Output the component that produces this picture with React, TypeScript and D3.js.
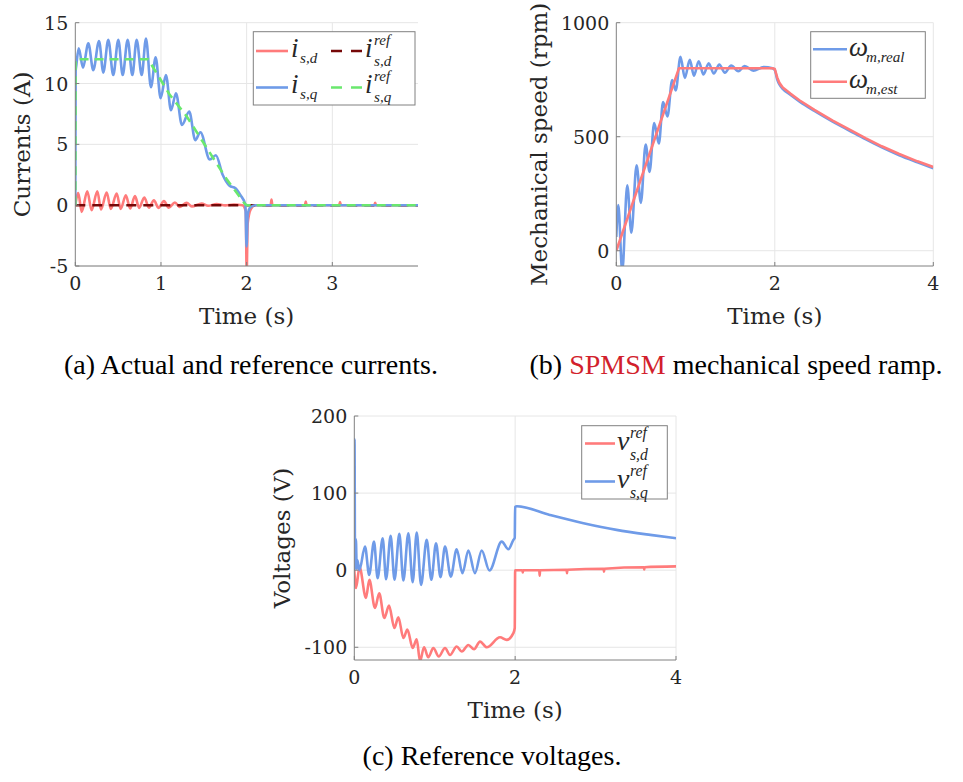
import React from 'react';
import * as d3 from 'd3';

type Pt = [number, number];

// (a) currents (A) vs time (s), peaks and troughs
const iSd: Pt[] = [
  [0, 0], [0.035, 1.0], [0.074, -0.55], [0.14, 1.15], [0.19, -0.41], [0.257, 1.15], [0.3, -0.36],
  [0.366, 1.04], [0.415, -0.3], [0.483, 0.96], [0.53, -0.3], [0.59, 0.82], [0.64, -0.27], [0.697, 0.74],
  [0.745, -0.22], [0.805, 0.63], [0.86, -0.2], [0.918, 0.41], [0.97, -0.22], [1.035, 0.33], [1.09, -0.2],
  [1.163, 0.22], [1.22, -0.14], [1.3, 0.2], [1.36, -0.1], [1.475, 0.13], [1.55, -0.05], [1.65, 0.1],
  [1.75, -0.02], [1.85, 0.05], [1.95, 0], [1.99, -0.5], [2.0, -5.6], [2.012, -1.5], [2.05, -0.3], [2.1, 0],
  [2.28, 0], [2.29, 0.47], [2.3, 0], [2.68, 0], [2.69, 0.3], [2.7, 0], [3.08, 0], [3.09, 0.25], [3.1, 0],
  [3.49, 0], [3.5, 0.2], [3.51, 0], [4, 0],
];
const iSdRef: Pt[] = [[0, 0], [4, 0]];
const iSq: Pt[] = [
  [0, 0], [0.004, 11.0], [0.012, 11.5], [0.04, 12.9], [0.09, 11.3], [0.152, 13.3], [0.21, 11.1],
  [0.277, 13.5], [0.327, 10.9], [0.385, 13.6], [0.443, 10.7], [0.502, 13.6], [0.553, 10.7], [0.611, 13.6],
  [0.666, 10.7], [0.716, 13.6], [0.775, 10.7], [0.825, 13.7], [0.883, 9.7], [0.938, 12.15], [0.996, 8.8],
  [1.058, 10.7], [1.117, 7.8], [1.175, 9.2], [1.245, 6.6], [1.33, 7.7], [1.4, 5.35], [1.46, 6.0],
  [1.57, 3.75], [1.64, 4.1], [1.72, 2.5], [1.8, 1.6], [1.87, 1.4], [1.93, 0.8], [1.985, 0.05],
  [1.999, -3.4], [2.012, -0.8], [2.04, -0.2], [2.1, 0], [4, 0],
];
const iSqRef: Pt[] = [
  [0, 0], [0.003, 12], [0.85, 12], [1.1, 9.1], [1.3, 7.3], [1.77, 2.1], [1.98, 0.1], [2.0, 0], [4, 0],
];

// (b) mechanical speed (rpm)
const wReal: Pt[] = [
  [0, 60], [0.025, 200], [0.075, -90], [0.138, 287], [0.19, 79], [0.256, 375], [0.31, 210], [0.37, 466],
  [0.42, 346], [0.478, 560], [0.537, 470], [0.59, 652], [0.646, 589], [0.705, 749], [0.75, 703],
  [0.81, 851], [0.865, 758], [0.927, 837], [0.98, 768], [1.04, 831], [1.1, 773], [1.166, 822],
  [1.23, 777], [1.3, 816], [1.37, 781], [1.45, 812], [1.54, 787], [1.62, 810], [1.73, 790], [1.86, 805],
  [1.97, 800], [2.0, 792], [2.03, 752], [2.06, 728], [2.1, 710], [2.2, 683], [2.31, 655], [2.5, 613],
  [2.73, 566], [2.95, 525], [3.15, 488], [3.35, 453], [3.57, 419], [3.8, 388], [4, 362],
];
const wEst: Pt[] = [
  [0, 0], [0.79, 800], [1.97, 800], [2.0, 797], [2.03, 760], [2.06, 735], [2.1, 716], [2.2, 688],
  [2.31, 660], [2.5, 618], [2.73, 571], [2.95, 530], [3.15, 493], [3.35, 458], [3.57, 424], [3.8, 392],
  [4, 367],
];

// (c) reference voltages (V)
const vSd: Pt[] = [
  [0, 0], [0.021, -23], [0.065, 4], [0.145, -36], [0.187, -12.6], [0.257, -49], [0.31, -30],
  [0.373, -62], [0.432, -46], [0.498, -75], [0.548, -61], [0.61, -88], [0.66, -77], [0.726, -101],
  [0.776, -89.5], [0.817, -118], [0.867, -100], [0.92, -113], [0.983, -101], [1.05, -112], [1.128, -101],
  [1.19, -110], [1.273, -99], [1.336, -105.5], [1.418, -97], [1.489, -102.5], [1.563, -92.6], [1.647, -100],
  [1.812, -87], [1.895, -90.4], [1.978, -81.7], [1.995, -75], [2.0, 0], [2.09, 0], [2.095, -3], [2.1, 0],
  [2.3, 0], [2.305, -7], [2.31, 0], [2.64, 0.5], [2.645, -4], [2.65, 0.6], [3.1, 1.8], [3.105, -2],
  [3.11, 1.9], [3.6, 3.8], [3.605, 1], [3.61, 3.9], [4, 5],
];
const vSq: Pt[] = [
  [0, 0], [0.003, 170], [0.009, 2], [0.02, 40], [0.03, 2], [0.038, 13], [0.063, 0], [0.133, 30.6],
  [0.185, -6.1], [0.245, 37.1], [0.29, -10.4], [0.353, 41.5], [0.395, -11.7], [0.452, 44.5], [0.5, -12.5],
  [0.56, 47.1], [0.61, -13.4], [0.672, 48], [0.726, -15.6], [0.776, 48.8], [0.83, -19], [0.9, 39.3],
  [0.958, -12.5], [1.016, 35], [1.072, -9.1], [1.128, 30.6], [1.2, -8.3], [1.273, 27.2], [1.345, -3.9],
  [1.418, 25.5], [1.5, -3.9], [1.584, 25.5], [1.68, -0.5], [1.833, 37.1], [1.916, 27.2], [1.978, 39.3],
  [1.995, 42], [2.0, 82], [2.02, 83], [2.43, 71.7], [2.85, 61], [3.26, 52.3], [3.68, 45.8], [4, 41.5],
];

const RED = '#ff7b7b';
const BLUE = '#6f9be8';
const GREEN = '#6ae86e';
const DARKRED = '#760808';
const TXT = '#262626';
const AXIS = '#808080';
const GRID = '#e6e6e6';
const CM = "'DejaVu Serif', serif";
const TIMES = "'Liberation Serif', serif";

interface Series { data: Pt[]; color: string; dash?: string; smooth?: boolean }
interface Box { left: number; right: number; top: number; bottom: number }

function Panel({ id, box, xDomain, yDomain, xTicks, yTicks, series, yLabel, yLabelX, children }: {
  id: string; box: Box; xDomain: number[]; yDomain: number[]; xTicks: number[]; yTicks: number[];
  series: Series[]; yLabel: string; yLabelX: number; children?: React.ReactNode;
}) {
  const x = d3.scaleLinear().domain(xDomain).range([box.left, box.right]);
  const y = d3.scaleLinear().domain(yDomain).range([box.bottom, box.top]);
  const cx = (box.left + box.right) / 2;
  const cy = (box.top + box.bottom) / 2;
  return (
    <g>
      <defs>
        <clipPath id={id}>
          <rect x={box.left} y={box.top} width={box.right - box.left} height={box.bottom - box.top} />
        </clipPath>
      </defs>
      {xTicks.filter(t => t !== xDomain[0]).map(t => (
        <line key={'gx' + t} x1={x(t)} x2={x(t)} y1={box.top} y2={box.bottom} stroke={GRID} />
      ))}
      {yTicks.map(t => (
        <line key={'gy' + t} x1={box.left} x2={box.right} y1={y(t)} y2={y(t)} stroke={GRID} />
      ))}
      <g clipPath={`url(#${id})`}>
        {series.map((s, i) => {
          const gen = d3.line<Pt>().x(d => x(d[0])).y(d => y(d[1]))
            .curve(s.smooth ? d3.curveMonotoneX : d3.curveLinear);
          return <path key={i} d={gen(s.data) || ''} fill="none" stroke={s.color} strokeWidth={2.6}
            strokeDasharray={s.dash} strokeLinejoin="round" />;
        })}
      </g>
      <line x1={box.left} x2={box.left} y1={box.top} y2={box.bottom} stroke={AXIS} />
      <line x1={box.left} x2={box.right} y1={box.bottom} y2={box.bottom} stroke={AXIS} />
      {xTicks.map(t => (
        <g key={'tx' + t}>
          <line x1={x(t)} x2={x(t)} y1={box.bottom} y2={box.bottom - 4} stroke={AXIS} />
          <text x={x(t)} y={box.bottom + 24} textAnchor="middle" fontSize={19} fontFamily={CM} fill={TXT}>{t}</text>
        </g>
      ))}
      {yTicks.map(t => (
        <g key={'ty' + t}>
          <line x1={box.left} x2={box.left + 4} y1={y(t)} y2={y(t)} stroke={AXIS} />
          <text x={box.left - 7} y={y(t) + 7} textAnchor="end" fontSize={19} fontFamily={CM} fill={TXT}>
            {t < 0 ? '-' + Math.abs(t) : t}
          </text>
        </g>
      ))}
      <text x={cx} y={box.bottom + 58} textAnchor="middle" fontSize={23} fontFamily={CM} fill={TXT}>Time (s)</text>
      <text transform={`translate(${yLabelX},${cy}) rotate(-90)`} textAnchor="middle" fontSize={23}
        fontFamily={CM} fill={TXT}>{yLabel}</text>
      {children}
    </g>
  );
}

// one text element: base symbol, optional superscript, subscript stacked under it
function Sym({ x, y, base, sub, sup, size, bw }: {
  x: number; y: number; base: string; sub: string; sup?: string; size: number; bw: number;
}) {
  const small = size * 0.56;
  const supDy = -size * 0.44;
  const subDy = sup ? size * 0.34 : size * 0.24;
  return (
    <text x={x} y={y} fontSize={size} fontFamily={TIMES} fontStyle="italic" fill={TXT}>
      <tspan>{base}</tspan>
      {sup && <tspan x={x + bw} y={y + supDy} fontSize={small}>{sup}</tspan>}
      <tspan x={x + bw} y={y + subDy} fontSize={small}>{sub}</tspan>
    </text>
  );
}

function Sample({ x1, x2, y, color, dash }: { x1: number; x2: number; y: number; color: string; dash?: string }) {
  return <line x1={x1} x2={x2} y1={y} y2={y} stroke={color} strokeWidth={2.6} strokeDasharray={dash} />;
}

export default function App() {
  const boxA = { left: 75.3, right: 418, top: 22.7, bottom: 266 };
  const boxB = { left: 616.3, right: 933.3, top: 22.7, bottom: 266 };
  const boxC = { left: 354.3, right: 676, top: 416, bottom: 660 };
  return (
    <svg width={963} height={782} style={{ position: 'absolute', left: 0, top: 0, background: '#fff' }}>
      <Panel id="clipA" box={boxA} xDomain={[0, 4]} yDomain={[-5, 15]} xTicks={[0, 1, 2, 3]}
        yTicks={[-5, 0, 5, 10, 15]} yLabel="Currents (A)" yLabelX={30}
        series={[
          { data: iSd, color: RED, smooth: true },
          { data: iSdRef, color: DARKRED, dash: '10,7' },
          { data: iSq, color: BLUE, smooth: true },
          { data: iSqRef, color: GREEN, dash: '9,6' },
        ]}>
        <rect x={253.3} y={31.7} width={161.7} height={73.3} fill="#fff" stroke={AXIS} />
        <Sample x1={256} x2={288} y={51} color={RED} />
        <Sym x={291} y={57} base="i" sub="s,d" size={27} bw={9} />
        <Sample x1={331} x2={364} y={51} color={DARKRED} dash="11,9" />
        <Sym x={365} y={57} base="i" sup="ref" sub="s,d" size={27} bw={9} />
        <Sample x1={256} x2={288} y={87.5} color={BLUE} />
        <Sym x={291} y={93} base="i" sub="s,q" size={27} bw={9} />
        <Sample x1={331} x2={364} y={87.5} color={GREEN} dash="11,9" />
        <Sym x={365} y={93} base="i" sup="ref" sub="s,q" size={27} bw={9} />
      </Panel>

      <Panel id="clipB" box={boxB} xDomain={[0, 4]} yDomain={[-67, 1000]} xTicks={[0, 2, 4]}
        yTicks={[0, 500, 1000]} yLabel="Mechanical speed (rpm)" yLabelX={547}
        series={[
          { data: wReal, color: BLUE, smooth: true },
          { data: wEst, color: RED },
        ]}>
        <rect x={810.7} y={31.7} width={114.6} height={66.6} fill="#fff" stroke={AXIS} />
        <Sample x1={813} x2={847} y={49.3} color={BLUE} />
        <Sym x={849} y={56} base="ω" sub="m,real" size={27} bw={17} />
        <Sample x1={813} x2={847} y={81.7} color={RED} />
        <Sym x={849} y={88} base="ω" sub="m,est" size={27} bw={17} />
      </Panel>

      <Panel id="clipC" box={boxC} xDomain={[0, 4]} yDomain={[-116.5, 200]} xTicks={[0, 2, 4]}
        yTicks={[-100, 0, 100, 200]} yLabel="Voltages (V)" yLabelX={290}
        series={[
          { data: vSd, color: RED, smooth: true },
          { data: vSq, color: BLUE, smooth: true },
        ]}>
        <rect x={581.7} y={425.7} width={85.6} height={73.3} fill="#fff" stroke={AXIS} />
        <Sample x1={585} x2={615} y={443.5} color={RED} />
        <Sym x={617} y={450} base="v" sup="ref" sub="s,d" size={28} bw={13} />
        <Sample x1={585} x2={615} y={481.5} color={BLUE} />
        <Sym x={617} y={488} base="v" sup="ref" sub="s,q" size={28} bw={13} />
      </Panel>

      <g fontFamily={TIMES} fontSize={28} fill="#000" textAnchor="middle">
        <text x={251} y={374}>(a) Actual and reference currents.</text>
        <text x={736} y={374}>(b) <tspan fill="#d21f2d">SPMSM</tspan> mechanical speed ramp.</text>
        <text x={492} y={765}>(c) Reference voltages.</text>
      </g>
    </svg>
  );
}
